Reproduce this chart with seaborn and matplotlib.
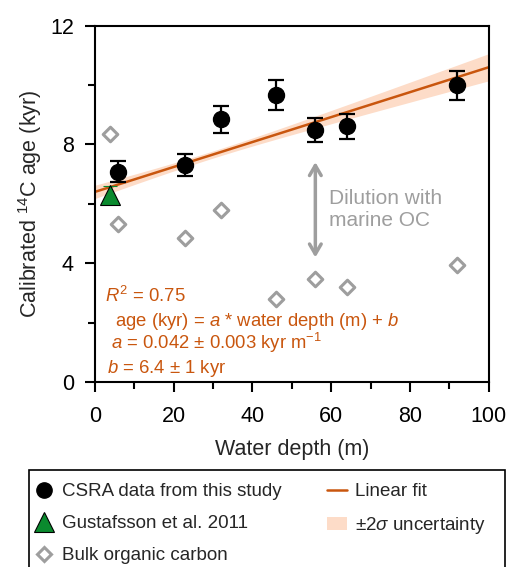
"""Calibrated 14C age versus water depth"""

import matplotlib
matplotlib.use("Agg")
import matplotlib.pyplot as plt
from matplotlib.lines import Line2D
from matplotlib.patches import Patch, Rectangle
import numpy as np
import pandas as pd
import seaborn as sns

sns.set_theme(style="ticks")
plt.rcParams['font.family'] = ['Liberation Sans', 'DejaVu Sans']
plt.rcParams['mathtext.fontset'] = 'custom'
plt.rcParams['mathtext.rm'] = 'Liberation Sans'
plt.rcParams['mathtext.it'] = 'Liberation Sans:italic'

# CSRA data (this study)
csra_depth = [6, 23, 32, 46, 56, 64, 92]
csra_age = [7.08, 7.31, 8.85, 9.66, 8.48, 8.62, 9.99]
csra_err = [0.36, 0.37, 0.45, 0.5, 0.4, 0.42, 0.48]

# Gustafsson et al. 2011
gust_depth = [4]
gust_age = [6.3]
gust_err = [0.3]

# Bulk organic carbon
bulk_depth = [4, 6, 23, 32, 46, 56, 64, 92]
bulk_age = [8.35, 5.32, 4.85, 5.79, 2.78, 3.48, 3.21, 3.94]

# linear fit parameters and 2 sigma band shape
fit_a = 0.042
fit_b = 6.4
band_min = 0.12
band_slope = 0.0063
band_center = 30

orange = "#C9560E"
grey = "#9E9E9E"

fig = plt.figure(figsize=(5.07, 5.67), dpi=100)
ax = fig.add_axes([0.1868, 0.3263, 0.7771, 0.6284])

xs = np.linspace(0, 100, 101)
fit = pd.DataFrame({'depth': xs, 'age': fit_a * xs + fit_b})
half = np.sqrt(band_min ** 2 + band_slope ** 2 * (xs - band_center) ** 2)
ax.fill_between(xs, fit['age'] - half, fit['age'] + half, color="#FDDCC8", lw=0, zorder=1)
sns.lineplot(data=fit, x='depth', y='age', color=orange, lw=1.8, ax=ax, zorder=2)

bulk = pd.DataFrame({'depth': bulk_depth, 'age': bulk_age})
sns.scatterplot(data=bulk, x='depth', y='age', marker='D', s=55, facecolor='white',
                edgecolor=grey, linewidth=2.2, ax=ax, zorder=3)

ax.errorbar(gust_depth, gust_age, yerr=gust_err, fmt='^', ms=15, color='#0A8A2E',
            mec='black', mew=0.8, ecolor='#0A8A2E', elinewidth=1.5, capsize=5, capthick=1.5, zorder=4)
ax.errorbar(csra_depth, csra_age, yerr=csra_err, fmt='o', ms=11.5, color='black',
            elinewidth=1.6, capsize=5.5, capthick=1.6, zorder=5)

ax.annotate('', xy=(56, 4.1), xytext=(56, 7.5),
            arrowprops=dict(arrowstyle='<->,head_length=0.6,head_width=0.35', color=grey, lw=2.5))
ax.text(59.5, 5.8, 'Dilution with\nmarine OC', color=grey, fontsize=15, va='center',
        ha='left', linespacing=1.2)

ax.text(2.6, 2.9, r'$R^2$ = 0.75', color=orange, fontsize=13.3, va='center')
ax.text(5.2, 2.05, r'age (kyr) = $a$ * water depth (m) + $b$', color=orange, fontsize=13.3, va='center')
ax.text(4.2, 1.3, r'$a$ = 0.042 ± 0.003 kyr m$^{-1}$', color=orange, fontsize=13.3, va='center')
ax.text(3.1, 0.46, r'$b$ = 6.4 ± 1 kyr', color=orange, fontsize=13.3, va='center')

ax.set_xlim(0, 100)
ax.set_ylim(0, 12)
ax.set_xticks([0, 20, 40, 60, 80, 100])
ax.set_xticks([10, 30, 50, 70, 90], minor=True)
ax.set_yticks([0, 4, 8, 12])
ax.set_yticks([2, 6, 10], minor=True)
ax.tick_params(which='both', direction='out', width=1.5, colors='black', labelsize=15.5)
ax.tick_params(which='major', length=7)
ax.tick_params(which='minor', length=5)
ax.tick_params(axis='x', which='major', pad=10)
ax.tick_params(axis='y', which='major', pad=8)
for sp in ax.spines.values():
    sp.set_linewidth(1.5)
    sp.set_color('black')
ax.set_xlabel('Water depth (m)', fontsize=15.5, labelpad=9)
ax.set_ylabel(r'Calibrated $^{14}$C age (kyr)', fontsize=15.5, labelpad=4)

# legend box (runs off the bottom edge like the original)
fig.patches.append(Rectangle((29 / 507, -0.1), 476 / 507, 1.1 - 470 / 567, transform=fig.transFigure,
                             fill=False, edgecolor='black', lw=1.2))
handles = [
    Line2D([], [], marker='o', ls='', color='black', ms=11),
    Line2D([], [], marker='^', ls='', color='#0A8A2E', mec='black', mew=0.8, ms=14),
    Line2D([], [], marker='D', ls='', mfc='white', mec=grey, mew=2.2, ms=7),
    Line2D([], [], color=orange, lw=1.8),
    Patch(facecolor='#FDDCC8', edgecolor='none'),
]
labels = ['CSRA data from this study', 'Gustafsson et al. 2011', 'Bulk organic carbon',
          'Linear fit', '±2$\\sigma$ uncertainty']
fig.legend(handles, labels, loc='upper left', bbox_to_anchor=(34 / 507, 1 - 483 / 567), ncol=2,
           frameon=False, fontsize=13.5, handlelength=1.1, handletextpad=0.4, columnspacing=2.4,
           labelspacing=0.8, borderaxespad=0, borderpad=0)

fig.savefig('out.png', dpi=100)
